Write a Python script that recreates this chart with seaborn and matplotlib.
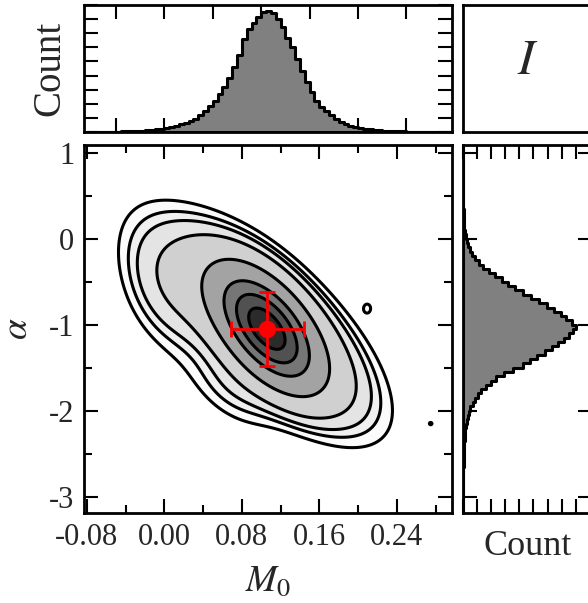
import matplotlib
matplotlib.use('Agg')
import matplotlib.pyplot as plt
import numpy as np
import pandas as pd
import seaborn as sns
from matplotlib.ticker import MultipleLocator

# marginal histogram of M0 (bin width 0.005), heights in tick units
m0_edges_start = -0.08
m0_bin = 0.005
m0_counts = [0.001, 0.001, 0.002, 0.002, 0.003, 0.003, 0.004, 0.005, 0.006, 0.007,
             0.009, 0.011, 0.014, 0.017, 0.021, 0.026, 0.032, 0.040, 0.050, 0.062,
             0.075, 0.090, 0.110, 0.140, 0.175, 0.215, 0.26, 0.315, 0.37, 0.45,
             0.54, 0.64, 0.77, 0.85, 0.90, 0.95, 0.99, 1.00, 0.98, 0.93,
             0.87, 0.78, 0.70, 0.60, 0.50, 0.41, 0.33, 0.26, 0.21, 0.17,
             0.14, 0.11, 0.085, 0.065, 0.05, 0.04, 0.033, 0.027, 0.022, 0.018,
             0.014, 0.011, 0.009, 0.007, 0.006, 0.005, 0.004, 0.003, 0.003, 0.002,
             0.002, 0.001, 0.001, 0.001, 0.001, 0.0]
m0_peak = 8.58

# marginal histogram of alpha (bin width 0.05)
alpha_edges_start = -3.2
alpha_bin = 0.05
alpha_counts = [0.0005, 0.0005, 0.001, 0.001, 0.001, 0.001, 0.0015, 0.002, 0.002, 0.003,
                0.004, 0.005, 0.006, 0.007, 0.009, 0.010, 0.012, 0.015, 0.018, 0.022,
                0.026, 0.032, 0.040, 0.050, 0.065, 0.085, 0.105, 0.13, 0.16, 0.20,
                0.245, 0.29, 0.36, 0.44, 0.53, 0.59, 0.65, 0.72, 0.78, 0.84,
                0.89, 0.93, 0.97, 1.00, 0.96, 0.91, 0.86, 0.80, 0.74, 0.67,
                0.60, 0.53, 0.46, 0.40, 0.34, 0.28, 0.23, 0.18, 0.14, 0.11,
                0.08, 0.06, 0.045, 0.032, 0.023, 0.017, 0.013, 0.010, 0.008, 0.006,
                0.005, 0.004, 0.003, 0.003, 0.002, 0.002, 0.0015, 0.001, 0.001, 0.001,
                0.0005, 0.0005, 0.0005, 0.0, 0.0, 0.0]
alpha_peak = 8.05

# joint density read as a few gaussian blobs (peak height, centre, widths, corr)
comp_w = [0.85, 0.15, 0.020, 0.012, 0.0095, 0.009]
comp_mx = [0.106, 0.103, 0.000, 0.070, 0.2095, 0.275]
comp_my = [-1.05, -1.00, -0.60, -1.75, -0.81, -2.15]
comp_sx = [0.027, 0.053, 0.028, 0.030, 0.0035, 0.0015]
comp_sy = [0.35, 0.57, 0.45, 0.30, 0.05, 0.015]
comp_rho = [-0.55, -0.70, -0.40, -0.50, 0.0, 0.0]

# contour levels as fraction of the peak density
levels_frac = [0.0066, 0.0114, 0.0172, 0.0325, 0.115, 0.331, 0.56, 0.808]
band_colors = ['#fbfbfb', '#f0f0f0', '#e4e4e4', '#d0d0d0', '#a3a3a3', '#767676', '#515151', '#2b2b2b']

# best fit point
best_m0, best_alpha = 0.106, -1.047
err_m0, err_alpha = 0.0377, 0.43

sns.set_theme(style='white')
plt.rcParams['font.family'] = ['Liberation Serif', 'DejaVu Serif']
plt.rcParams['mathtext.fontset'] = 'stix'

W, H = 588, 603
fig = plt.figure(figsize=(W / 100, H / 100), dpi=100)

def frac(l, t, r, b):
    return [l / W, 1 - b / H, (r - l) / W, (b - t) / H]

ax_main = fig.add_axes(frac(84, 145, 452, 513))
ax_top = fig.add_axes(frac(84, 5, 452, 132))
ax_txt = fig.add_axes(frac(463, 5, 592, 132))
ax_right = fig.add_axes(frac(463, 145, 592, 513))

xlim = (-0.083, 0.297)
ylim = (-3.19, 1.09)

# joint density
gx = np.linspace(*xlim, 500)
gy = np.linspace(*ylim, 500)
X, Y = np.meshgrid(gx, gy)
Z = np.zeros_like(X)
for w, mx, my, sx, sy, r in zip(comp_w, comp_mx, comp_my, comp_sx, comp_sy, comp_rho):
    u = (X - mx) / sx
    v = (Y - my) / sy
    Z += w * np.exp(-(u * u - 2 * r * u * v + v * v) / (2 * (1 - r * r)))
zmax = Z.max()
levels = [f * zmax for f in levels_frac]
ax_main.contourf(X, Y, Z, levels=levels + [zmax * 1.01], colors=band_colors)
ax_main.contour(X, Y, Z, levels=levels, colors='black', linewidths=2.2)
ax_main.errorbar([best_m0], [best_alpha], xerr=[err_m0], yerr=[err_alpha], fmt='o',
                 color='red', ms=11.5, capsize=6, elinewidth=2, capthick=2, zorder=5)
ax_main.set_xlim(xlim)
ax_main.set_ylim(ylim)
ax_main.xaxis.set_major_locator(MultipleLocator(0.08))
ax_main.xaxis.set_minor_locator(MultipleLocator(0.04))
ax_main.yaxis.set_major_locator(MultipleLocator(1))
ax_main.yaxis.set_minor_locator(MultipleLocator(0.5))
ax_main.set_xticks([-0.08, 0.0, 0.08, 0.16, 0.24])
ax_main.set_xticklabels(['-0.08', '0.00', '0.08', '0.16', '0.24'])
ax_main.set_yticks([1, 0, -1, -2, -3])
ax_main.set_yticklabels(['1', '0', '-1', '-2', '-3'])
ax_main.set_xlabel('$M_0$', fontsize=27, labelpad=9)
ax_main.set_ylabel(r'$\alpha$', fontsize=27, labelpad=10)

# top marginal
m0_edges = [m0_edges_start + i * m0_bin for i in range(len(m0_counts) + 1)]
m0_centers = [e + m0_bin / 2 for e in m0_edges[:-1]]
top_df = pd.DataFrame({'M0': m0_centers, 'count': [c * m0_peak for c in m0_counts]})
sns.histplot(data=top_df, x='M0', weights='count', bins=m0_edges, element='step', fill=True,
             color='#808080', edgecolor='black', linewidth=2.2, alpha=1, ax=ax_top)
ax_top.set_xlim(xlim)
ax_top.set_ylim(0, 9.0)
ax_top.xaxis.set_major_locator(MultipleLocator(0.05))
ax_top.yaxis.set_major_locator(MultipleLocator(1))
ax_top.set_xticklabels([])
ax_top.set_yticklabels([])
ax_top.set_xlabel('')
ax_top.set_ylabel('Count', fontsize=28, labelpad=4)

# right marginal
al_edges = [alpha_edges_start + i * alpha_bin for i in range(len(alpha_counts) + 1)]
al_centers = [e + alpha_bin / 2 for e in al_edges[:-1]]
right_df = pd.DataFrame({'alpha': al_centers, 'count': [c * alpha_peak for c in alpha_counts]})
sns.histplot(data=right_df, y='alpha', weights='count', bins=al_edges, element='step', fill=True,
             color='#808080', edgecolor='black', linewidth=2.2, alpha=1, ax=ax_right)
ax_right.set_ylim(ylim)
ax_right.set_xlim(0, 9.15)
ax_right.xaxis.set_major_locator(MultipleLocator(1))
ax_right.yaxis.set_major_locator(MultipleLocator(1))
ax_right.set_xticklabels([])
ax_right.set_yticklabels([])
ax_right.set_ylabel('')
ax_right.set_xlabel('Count', fontsize=26, labelpad=5)

# label panel
ax_txt.text(0.5, 0.55, '$I$', fontsize=36, ha='center', va='center', transform=ax_txt.transAxes)
ax_txt.set_xticks([])
ax_txt.set_yticks([])

for ax in [ax_main, ax_top, ax_txt, ax_right]:
    for s in ax.spines.values():
        s.set_visible(True)
        s.set_color('black')
        s.set_linewidth(2.0)
    ax.tick_params(which='both', direction='in', top=True, right=True, bottom=True, left=True,
                   color='black', width=1.5, labelsize=22, pad=7)
    ax.tick_params(which='major', length=10)
    ax.tick_params(which='minor', length=6)
ax_txt.tick_params(which='both', length=0)

fig.savefig('out.png', dpi=100)
